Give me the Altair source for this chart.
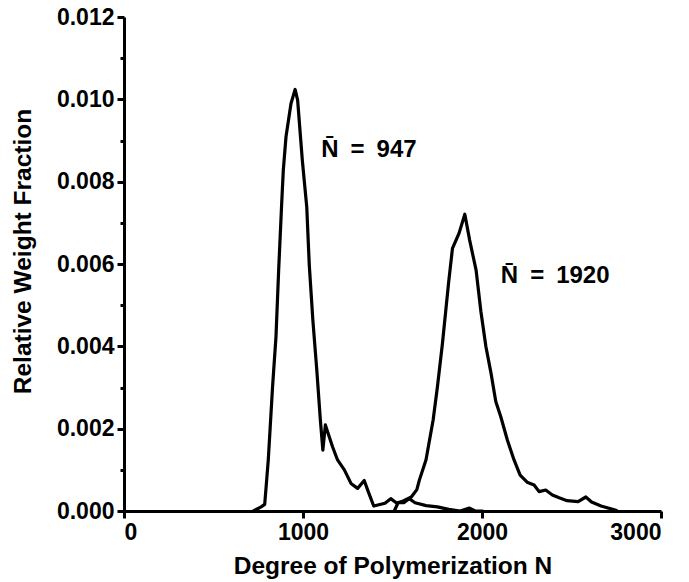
import altair as alt
import pandas as pd

# Curve with mean N = 947
n1 = [723, 766, 786, 797, 806, 830, 849, 864, 881, 890, 905, 933, 956,
      970, 996, 1021, 1035, 1055, 1077, 1097, 1111, 1125, 1147, 1165, 1193,
      1231, 1268, 1305, 1342, 1363, 1395, 1458, 1490, 1521, 1563, 1593, 1626,
      1688, 1751, 1814, 1878, 1930, 1962, 2004]
w1 = [0.0, 0.0001, 0.00016, 0.00075, 0.00124, 0.00302, 0.00423, 0.00585,
      0.00748, 0.00828, 0.00909, 0.0099, 0.01024,
      0.00998, 0.00853, 0.00738, 0.00598, 0.00464, 0.00343, 0.00221, 0.00148,
      0.00209, 0.0018, 0.00156, 0.00124,
      0.001, 0.00067, 0.00055, 0.00074, 0.00049, 0.00012, 0.00019, 0.0003,
      0.0002, 0.0002, 0.0003, 0.0002,
      0.00013, 0.0001, 0.00004, 0.0, 0.00007, 0.0, 0.0]

# Curve with mean N = 1920
n2 = [1510, 1531, 1563, 1605, 1636, 1650, 1687, 1727, 1751, 1779, 1813, 1835,
      1872, 1904, 1931, 1967, 1994, 2022, 2049, 2077, 2105, 2142, 2179, 2213,
      2252, 2291, 2319, 2356, 2393, 2431, 2475, 2537, 2580, 2612, 2665, 2749,
      2754]
w2 = [0.0, 0.0002, 0.00025, 0.00034, 0.00052, 0.00075, 0.00124, 0.00221,
      0.00302, 0.00407, 0.00553, 0.00638,
      0.00675, 0.00721, 0.00658, 0.00585, 0.00484, 0.00399, 0.00338, 0.00266,
      0.00229, 0.00172, 0.00124, 0.00087,
      0.0007, 0.00063, 0.00047, 0.00051, 0.00039, 0.00032, 0.00025, 0.00023,
      0.00034, 0.00022, 0.00012, 0.00002, 0.0]

series_names = ["N947", "N1920"]

label_text = ["N\u0304\u2002=\u2002947", "N\u0304\u2002=\u20021920"]
label_n = [1102, 2105]
label_w = [0.0086, 0.00553]

x_ticks = [0, 1000, 2000, 3000]
y_ticks = [0.0, 0.002, 0.004, 0.006, 0.008, 0.010, 0.012]
y_minor = [0.001, 0.003, 0.005, 0.007, 0.009, 0.011]

df = pd.concat([
    pd.DataFrame({"N": n1, "W": w1, "series": series_names[0]}),
    pd.DataFrame({"N": n2, "W": w2, "series": series_names[1]}),
], ignore_index=True)

labels_df = pd.DataFrame({"N": label_n, "W": label_w, "text": label_text})

FONT = "Liberation Sans"
x_scale = alt.Scale(domain=[0, 3000], nice=False, zero=False)
y_scale = alt.Scale(domain=[0, 0.012], nice=False)

lines = alt.Chart(df).mark_line(
    color="black", strokeWidth=3.2, strokeJoin="round", strokeCap="round"
).encode(
    x=alt.X("N:Q", scale=x_scale, axis=alt.Axis(
        values=x_ticks, format="d", title="Degree of Polymerization N",
        tickSize=7, labelPadding=3, titleAnchor="middle",
        titleBaseline="middle", titleY=55)),
    y=alt.Y("W:Q", scale=y_scale, axis=alt.Axis(
        values=y_ticks, format=".3f", title="Relative Weight Fraction",
        tickSize=7, labelPadding=3, orient="left",
        titleAngle=270, titleAlign="center", titleBaseline="middle",
        titleX=-101, titleY=234)),
    detail="series:N",
)

minor = alt.Chart(df).mark_point(opacity=0).encode(
    x=alt.X("N:Q", scale=x_scale, axis=None),
    y=alt.Y("W:Q", scale=y_scale, axis=alt.Axis(
        values=y_minor, labels=False, domain=False, tickSize=4,
        title=None, orient="left", grid=False)),
)

texts = alt.Chart(labels_df).mark_text(
    align="left", baseline="alphabetic", font=FONT, fontSize=24,
    fontWeight="bold", color="black"
).encode(
    x=alt.X("N:Q", scale=x_scale, axis=None),
    y=alt.Y("W:Q", scale=y_scale, axis=None),
    text="text:N",
)

chart = alt.layer(lines, minor, texts).resolve_axis(
    x="independent", y="independent"
).properties(
    width=537, height=494,
    autosize=alt.AutoSizeParams(type="none"),
    padding={"left": 124, "top": 17, "right": 28, "bottom": 71},
).configure_view(stroke=None).configure_axis(
    grid=False, domainColor="black", domainWidth=3, tickColor="black",
    tickWidth=3, labelFont=FONT, labelFontSize=23, labelFontWeight="bold",
    labelColor="black", titleFont=FONT, titleFontSize=24.5,
    titleFontWeight="bold", titleColor="black",
)

chart.save("out.html", embed_options={"renderer": "svg", "actions": False})
